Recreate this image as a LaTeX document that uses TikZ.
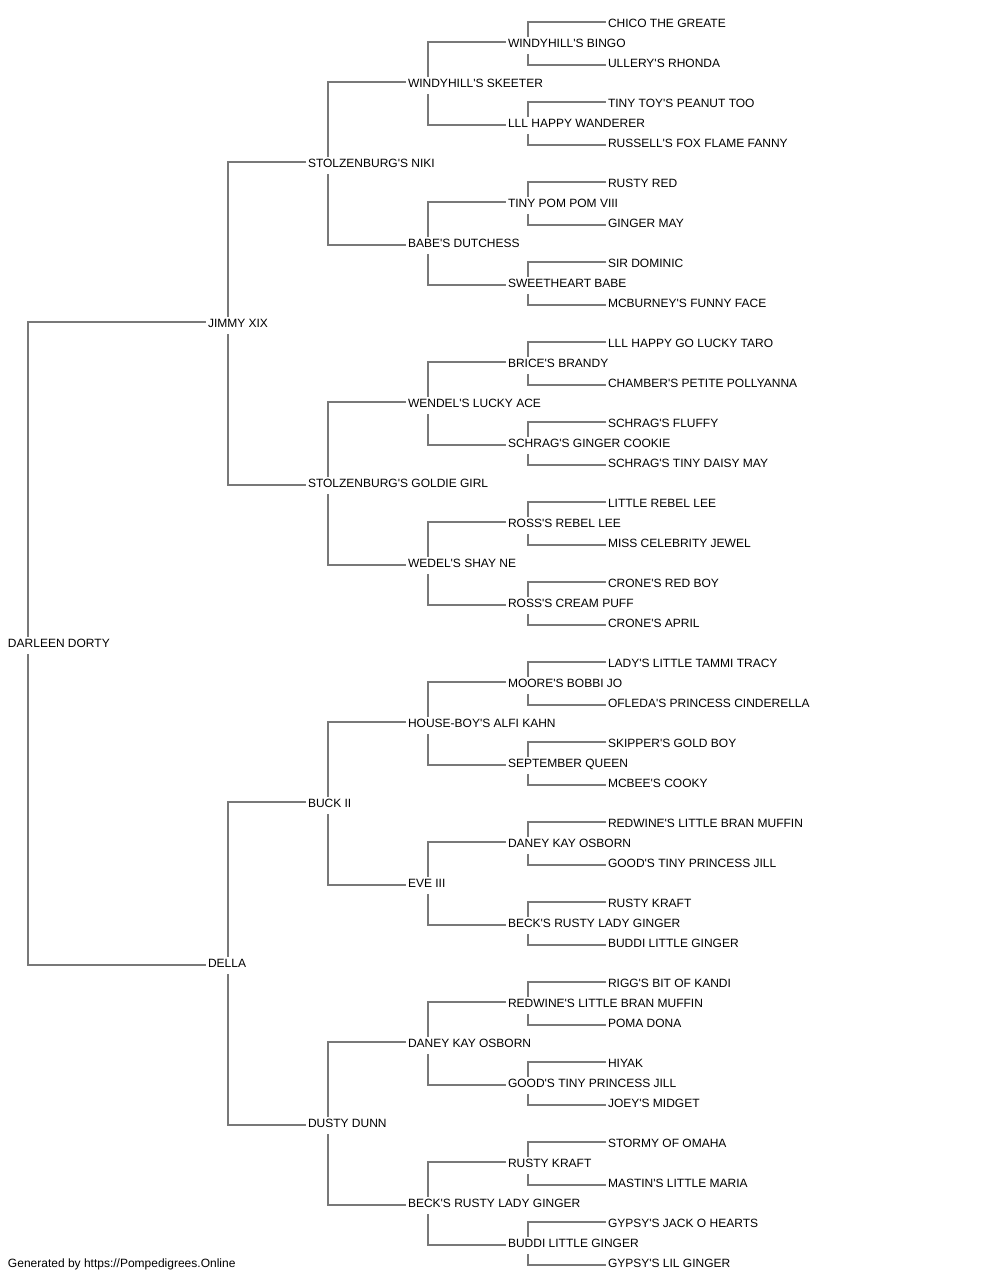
\documentclass[tikz,border=0pt]{standalone}
\usepackage{fontspec}
\newfontfamily\pf{Liberation Sans}
\usetikzlibrary{calc}
\definecolor{lncol}{RGB}{120,120,120}
\tikzset{
  lbl/.style={anchor=base west, inner sep=0pt, outer sep=0pt, font=\pf\fontsize{12}{14}\selectfont, text=black},
  ln/.style={draw=lncol, line width=1.8pt, line cap=rect}
}
\begin{document}
\begin{tikzpicture}[x=1pt,y=-1pt]
\useasboundingbox[fill=white] (0,0) rectangle (1000,1280);
% generation 0
\node[lbl] (g0-0) at (8,{3.3+640+4.3}) {DARLEEN DORTY};
% generation 1
\foreach \t [count=\i from 0] in {JIMMY XIX,DELLA}
  \node[lbl] (g1-\i) at (208,{3.3+320*(2*\i+1)+4.3}) {\t};
% generation 2
\foreach \t [count=\i from 0] in {STOLZENBURG'S NIKI,STOLZENBURG'S GOLDIE GIRL,BUCK II,DUSTY DUNN}
  \node[lbl] (g2-\i) at (308,{3.3+160*(2*\i+1)+4.3}) {\t};
% generation 3
\foreach \t [count=\i from 0] in {WINDYHILL'S SKEETER,BABE'S DUTCHESS,WENDEL'S LUCKY ACE,WEDEL'S SHAY NE,HOUSE-BOY'S ALFI KAHN,EVE III,DANEY KAY OSBORN,BECK'S RUSTY LADY GINGER}
  \node[lbl] (g3-\i) at (408,{3.3+80*(2*\i+1)+4.3}) {\t};
% generation 4
\foreach \t [count=\i from 0] in {WINDYHILL'S BINGO,LLL HAPPY WANDERER,TINY POM POM VIII,SWEETHEART BABE,BRICE'S BRANDY,SCHRAG'S GINGER COOKIE,ROSS'S REBEL LEE,ROSS'S CREAM PUFF,MOORE'S BOBBI JO,SEPTEMBER QUEEN,DANEY KAY OSBORN,BECK'S RUSTY LADY GINGER,REDWINE'S LITTLE BRAN MUFFIN,GOOD'S TINY PRINCESS JILL,RUSTY KRAFT,BUDDI LITTLE GINGER}
  \node[lbl] (g4-\i) at (508,{3.3+40*(2*\i+1)+4.3}) {\t};
% generation 5
\foreach \t [count=\i from 0] in {CHICO THE GREATE,ULLERY'S RHONDA,TINY TOY'S PEANUT TOO,RUSSELL'S FOX FLAME FANNY,RUSTY RED,GINGER MAY,SIR DOMINIC,MCBURNEY'S FUNNY FACE,LLL HAPPY GO LUCKY TARO,CHAMBER'S PETITE POLLYANNA,SCHRAG'S FLUFFY,SCHRAG'S TINY DAISY MAY,LITTLE REBEL LEE,MISS CELEBRITY JEWEL,CRONE'S RED BOY,CRONE'S APRIL,LADY'S LITTLE TAMMI TRACY,OFLEDA'S PRINCESS CINDERELLA,SKIPPER'S GOLD BOY,MCBEE'S COOKY,REDWINE'S LITTLE BRAN MUFFIN,GOOD'S TINY PRINCESS JILL,RUSTY KRAFT,BUDDI LITTLE GINGER,RIGG'S BIT OF KANDI,POMA DONA,HIYAK,JOEY'S MIDGET,STORMY OF OMAHA,MASTIN'S LITTLE MARIA,GYPSY'S JACK O HEARTS,GYPSY'S LIL GINGER}
  \node[lbl] (g5-\i) at (608,{3.3+20*(2*\i+1)+4.3}) {\t};
% footer
\node[lbl] (footer) at (8,1267.5) {Generated by https://Pompedigrees.Online};
% connectors
\foreach \g/\n in {0/0,1/1,2/3,3/7,4/15}{
  \foreach \i in {0,...,\n}{
    \pgfmathtruncatemacro\h{\g+1}
    \pgfmathtruncatemacro\a{2*\i}
    \pgfmathtruncatemacro\b{2*\i+1}
    \draw[ln] ($(g\h-\a.base west)+(-3,-5.3)$) -| ($(g\g-\i.base west)+(20,-11.8)$);
    \draw[ln] ($(g\h-\b.base west)+(-3,-2.8)$) -| ($(g\g-\i.base west)+(20,7.2)$);
  }
}
\end{tikzpicture}
\end{document}
